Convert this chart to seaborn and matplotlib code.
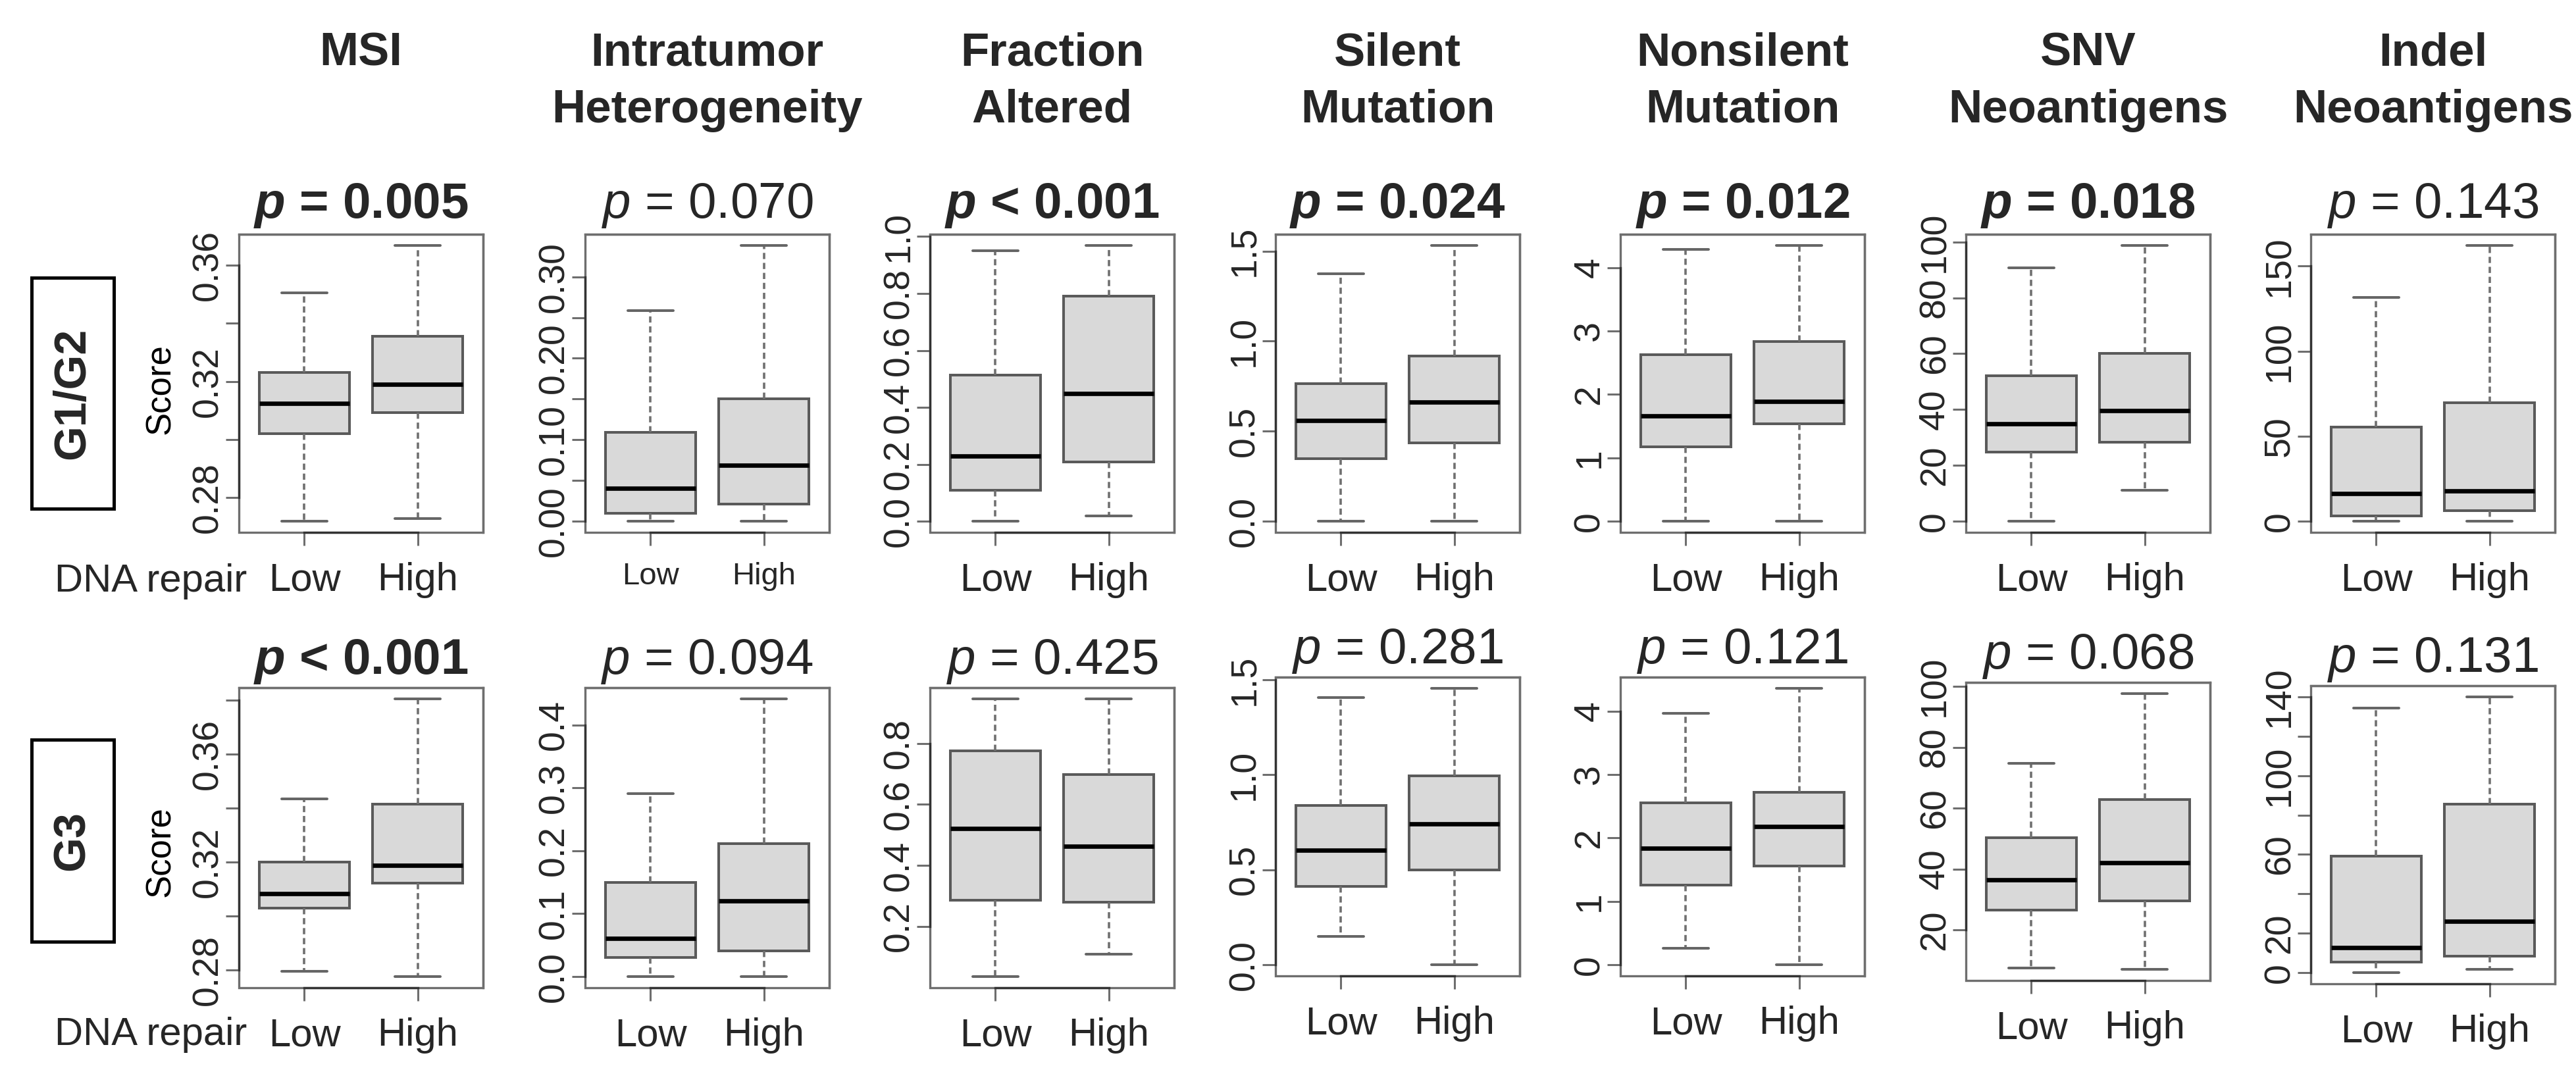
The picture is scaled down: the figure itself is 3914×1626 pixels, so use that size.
import matplotlib
matplotlib.use("Agg")
import matplotlib.pyplot as plt
from matplotlib.patches import Rectangle
import pandas as pd
import seaborn as sns

groups = ["Low", "High"]
titles = ["MSI", "Intratumor\nHeterogeneity", "Fraction\nAltered", "Silent\nMutation",
          "Nonsilent\nMutation", "SNV\nNeoantigens", "Indel\nNeoantigens"]
row_names = ["G1/G2", "G3"]

# five-number summaries: lower whisker, Q1, median, Q3, upper whisker
g12_low = [
    [0.2718, 0.3019, 0.3124, 0.3232, 0.3505],
    [0.0, 0.0101, 0.0403, 0.1095, 0.2584],
    [0.0, 0.109, 0.229, 0.514, 0.949],
    [0.0, 0.349, 0.561, 0.763, 1.373],
    [0.0, 1.17, 1.66, 2.63, 4.29],
    [0.0, 24.7, 34.9, 52.0, 90.8],
    [0.0, 3.1, 16.4, 55.4, 131.5],
]
g12_high = [
    [0.2727, 0.3093, 0.3189, 0.3355, 0.3669],
    [0.0, 0.021, 0.0688, 0.1502, 0.3386],
    [0.020, 0.208, 0.448, 0.790, 0.969],
    [0.0, 0.436, 0.662, 0.917, 1.532],
    [0.0, 1.54, 1.89, 2.83, 4.35],
    [11.1, 28.4, 39.6, 60.1, 98.8],
    [0.0, 6.3, 17.8, 69.6, 162.2],
]
g3_low = [
    [0.2794, 0.3030, 0.3082, 0.3201, 0.3434],
    [0.0, 0.030, 0.061, 0.150, 0.291],
    [0.0354, 0.286, 0.521, 0.775, 0.946],
    [0.148, 0.413, 0.605, 0.838, 1.408],
    [0.26, 1.26, 1.84, 2.55, 3.96],
    [7.56, 26.6, 36.5, 50.4, 74.8],
    [0.0, 5.3, 12.6, 59.2, 134.2],
]
g3_high = [
    [0.2775, 0.3121, 0.3188, 0.3414, 0.3806],
    [0.0, 0.041, 0.120, 0.2116, 0.4416],
    [0.1097, 0.280, 0.463, 0.697, 0.946],
    [0.0, 0.499, 0.741, 0.993, 1.456],
    [0.0, 1.56, 2.18, 2.72, 4.36],
    [7.0, 29.5, 42.0, 62.8, 97.7],
    [1.6, 8.3, 26.2, 85.5, 140.0],
]

g12_p = ["= 0.005", "= 0.070", "< 0.001", "= 0.024", "= 0.012", "= 0.018", "= 0.143"]
g12_sig = [True, False, True, True, True, True, False]
g3_p = ["< 0.001", "= 0.094", "= 0.425", "= 0.281", "= 0.121", "= 0.068", "= 0.131"]
g3_sig = [True, False, False, False, False, False, False]

g12_yticks = [[0.28, 0.30, 0.32, 0.34, 0.36], [0, 0.05, 0.10, 0.15, 0.20, 0.25, 0.30],
              [0, 0.2, 0.4, 0.6, 0.8, 1.0], [0, 0.5, 1.0, 1.5], [0, 1, 2, 3, 4],
              [0, 20, 40, 60, 80, 100], [0, 50, 100, 150]]
g12_ylabels = [["0.28", "", "0.32", "", "0.36"], ["0.00", "", "0.10", "", "0.20", "", "0.30"],
               ["0.0", "0.2", "0.4", "0.6", "0.8", "1.0"], ["0.0", "0.5", "1.0", "1.5"],
               ["0", "1", "2", "3", "4"], ["0", "20", "40", "60", "80", "100"],
               ["0", "50", "100", "150"]]
g3_yticks = [[0.28, 0.30, 0.32, 0.34, 0.36, 0.38], [0, 0.1, 0.2, 0.3, 0.4], [0.2, 0.4, 0.6, 0.8],
             [0, 0.5, 1.0, 1.5], [0, 1, 2, 3, 4], [20, 40, 60, 80, 100],
             [0, 20, 40, 60, 80, 100, 120, 140]]
g3_ylabels = [["0.28", "", "0.32", "", "0.36", ""], ["0.0", "0.1", "0.2", "0.3", "0.4"],
              ["0.2", "0.4", "0.6", "0.8"], ["0.0", "0.5", "1.0", "1.5"],
              ["0", "1", "2", "3", "4"], ["20", "40", "60", "80", "100"],
              ["0", "20", "", "60", "", "100", "", "140"]]

# layout in pixels of the 3914x1626 canvas
W, H = 3914, 1626
col_left = [363, 889, 1413, 1938, 2462, 2987, 3511]
ax_w = 371
row_top = [[356] * 7, [1045, 1045, 1045, 1029, 1029, 1037, 1042]]
row_bot = [[809] * 7, [1501, 1501, 1501, 1483, 1483, 1490, 1495]]

sns.set_theme(style="white")
plt.rcParams["font.family"] = ["Liberation Sans", "DejaVu Sans"]
plt.rcParams["mathtext.fontset"] = "custom"
plt.rcParams["mathtext.rm"] = "Liberation Sans"
plt.rcParams["mathtext.it"] = "Liberation Sans:italic"
plt.rcParams["mathtext.bf"] = "Liberation Sans:bold"
plt.rcParams["mathtext.bfit"] = "Liberation Sans:italic:bold"

fig = plt.figure(figsize=(W / 100, H / 100), dpi=100)

frame_col = "#6e6e6e"
axis_col = "#333333"

rows = [
    (g12_low, g12_high, g12_p, g12_sig, g12_yticks, g12_ylabels),
    (g3_low, g3_high, g3_p, g3_sig, g3_yticks, g3_ylabels),
]

for r, (lows, highs, pvals, sig, yticks, ylabels) in enumerate(rows):
    for c in range(7):
        top, bot = row_top[r][c], row_bot[r][c]
        ax = fig.add_axes([col_left[c] / W, 1 - bot / H, ax_w / W, (bot - top) / H])
        low, high = lows[c], highs[c]
        df = pd.DataFrame({"DNA repair": ["Low"] * len(low) + ["High"] * len(high),
                           "Score": low + high})
        sns.boxplot(data=df, x="DNA repair", y="Score", order=groups, ax=ax,
                    whis=(0, 100), width=0.8, color="#d9d9d9", saturation=1,
                    capwidths=0.4,
                    boxprops=dict(facecolor="#d9d9d9", edgecolor="#5a5a5a", linewidth=2.9),
                    medianprops=dict(color="black", linewidth=4.8),
                    whiskerprops=dict(color="#707070", linewidth=2.6, linestyle=(0, (2.6, 1.6))),
                    capprops=dict(color="#666666", linewidth=2.9))
        vals = low + high
        span = max(vals) - min(vals)
        ax.set_ylim(min(vals) - 0.04 * span, max(vals) + 0.04 * span)
        ax.set_xlim(-0.578, 1.578)
        ax.set_yticks(yticks[c], ylabels[c], rotation=90, va="center", ha="right")
        ax.set_xlabel("")
        xsize = 34 if (r == 0 and c == 1) else 43
        ax.tick_params(axis="x", length=14.4, width=2.2, color=frame_col, pad=18,
                       labelsize=xsize, bottom=True)
        ax.tick_params(axis="y", length=14.4, width=2.2, color=frame_col, pad=0.5,
                       labelsize=40, left=True)
        for sp in ax.spines.values():
            sp.set_color(frame_col)
            sp.set_linewidth(2.4)
        ax.add_patch(Rectangle((0, 0), 1, 1, transform=ax.transAxes, fill=False,
                               ec=frame_col, lw=2.4, clip_on=False, zorder=2.4))
        ax.spines["left"].set_bounds(yticks[c][0], yticks[c][-1])
        ax.spines["bottom"].set_bounds(0, 1)
        ax.spines["left"].set_color(axis_col)
        ax.spines["bottom"].set_color(axis_col)
        if c == 0:
            ax.set_ylabel("Score", fontsize=38, color="black")
            ax.yaxis.set_label_coords(-0.253, 0.481 if r == 0 else 0.454)
        else:
            ax.set_ylabel("")

        p_mark = r"$\mathbfit{p}$" if sig[c] else r"$\mathit{p}$"
        ax.annotate(f"{p_mark} {pvals[c]}", xy=(0.5, 1), xycoords="axes fraction",
                    xytext=(0, 18 if r == 0 else 15), textcoords="offset points",
                    ha="center", va="baseline", fontsize=55,
                    fontweight="bold" if sig[c] else "normal")

        if r == 0:
            cx = (col_left[c] + ax_w / 2) / W
            for k, line in enumerate(titles[c].split("\n")):
                fig.text(cx, 1 - (100 + 86 * k) / H, line, ha="center", va="baseline",
                         fontsize=51, fontweight="bold")

# row labels in boxes
for r, (y0, y1) in enumerate([(422, 773), (1124, 1431)]):
    fig.add_artist(Rectangle((48 / W, 1 - y1 / H), 125 / W, (y1 - y0) / H,
                             transform=fig.transFigure, fill=False, ec="black", lw=3.6))
    fig.text(110 / W, 1 - (y0 + y1) / 2 / H, row_names[r], rotation=90, ha="center",
             va="center", fontsize=49, fontweight="bold")

for yb in [899, 1588]:
    fig.text(375 / W, 1 - yb / H, "DNA repair", ha="right", va="baseline", fontsize=43)

fig.savefig("out.png", dpi=100)
